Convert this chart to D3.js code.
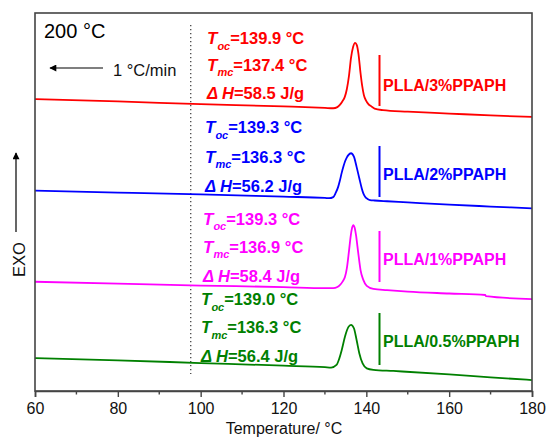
<!DOCTYPE html>
<html><head><meta charset="utf-8">
<script src="https://cdn.jsdelivr.net/npm/d3@7"></script>
<style>
html,body{margin:0;padding:0;background:#fff;}
svg{display:block;font-family:"Liberation Sans",Arial,sans-serif;}
</style></head>
<body><svg id="chart" width="546" height="437"></svg>
<script>
// ---- data ----
const sampleNames = ["PLLA/3%PPAPH", "PLLA/2%PPAPH", "PLLA/1%PPAPH", "PLLA/0.5%PPAPH"];
const tocValues = ["139.9", "139.3", "139.3", "139.0"];
const tmcValues = ["137.4", "136.3", "136.9", "136.3"];
const dhValues = ["58.5", "56.2", "58.4", "56.4"];
const xTicks = [60, 80, 100, 120, 140, 160, 180];

const tempRed  = [60,80,100,120,130,132,133,133.6,134.2,134.8,135.3,135.8,136.3,136.8,137.3,137.7,138.1,138.6,139.0,139.4,139.9,140.5,141.2,142,144,150,160,170,180];
const heatRed  = [7.72,7.66,7.59,7.53,7.49,7.48,7.51,7.57,7.66,7.78,7.99,8.33,8.81,9.10,9.21,9.15,8.92,8.41,8.07,7.83,7.69,7.59,7.53,7.47,7.43,7.39,7.34,7.29,7.25];

const tempBlue = [60,80,100,120,130,131,132,132.6,133.2,133.6,134.05,134.5,134.85,135.3,135.65,136.3,137.0,137.65,138.3,138.9,139.3,139.7,140.3,140.9,142,145,150,160,170,180];
const heatBlue = [5.30,5.25,5.20,5.14,5.11,5.10,5.13,5.24,5.40,5.56,5.77,5.95,6.07,6.18,6.24,6.29,6.20,5.93,5.63,5.36,5.22,5.14,5.08,5.05,5.04,5.02,4.99,4.93,4.88,4.83];

const tempMag  = [60,80,100,120,130,132,133,133.6,134.3,134.85,135.3,135.65,135.95,136.2,136.55,136.86,137.2,137.5,138.06,138.6,139.27,140.1,141.7,145,150,160,168.7,168.9,180];
const heatMag  = [2.89,2.84,2.79,2.75,2.72,2.72,2.75,2.80,2.90,3.02,3.25,3.55,3.84,4.08,4.31,4.39,4.31,4.13,3.64,3.20,2.94,2.78,2.70,2.67,2.63,2.58,2.54,2.51,2.43];

const tempGreen = [60,80,100,120,130,131.5,132.8,133.5,134.05,134.85,135.3,135.65,136.3,137.0,137.65,138.3,139.1,140.1,141.7,146.5,160,170,180];
const heatGreen = [0.87,0.81,0.74,0.67,0.63,0.62,0.69,0.87,1.08,1.44,1.60,1.69,1.75,1.66,1.35,1.00,0.73,0.60,0.56,0.53,0.44,0.36,0.29];

const seriesColors = ["#ff0000", "#0000ff", "#ff00ff", "#008000"];
const seriesTemps = [tempRed, tempBlue, tempMag, tempGreen];
const seriesHeats = [heatRed, heatBlue, heatMag, heatGreen];

// ---- layout ----
const svg = d3.select("#chart");
const L = 35, R = 532, T = 13, B = 391;
const x = d3.scaleLinear().domain([60, 180]).range([L, R]);
const y = d3.scaleLinear().domain([0, 10]).range([B, T]);
const font = '"Liberation Sans",Arial,sans-serif';

// defs arrow
const defs = svg.append("defs");
defs.append("marker").attr("id","arr").attr("viewBox","0 0 10 10").attr("refX",9).attr("refY",5)
  .attr("markerWidth",10).attr("markerHeight",7).attr("markerUnits","userSpaceOnUse").attr("orient","auto")
  .append("path").attr("d","M0,0 L10,5 L0,10 Z").attr("fill","#000");

// dotted vertical line
svg.append("line").attr("x1", x(97.6)).attr("x2", x(97.6)).attr("y1", 25).attr("y2", 374)
  .attr("stroke", "#444").attr("stroke-width", 1.3).attr("stroke-dasharray", "1.3,2.7");

// curves
const line = d3.line().x(d => x(d[0])).y(d => y(d[1])).curve(d3.curveMonotoneX);
seriesTemps.forEach((ts, i) => {
  const pts = ts.map((t, j) => [t, seriesHeats[i][j]]);
  svg.append("path").datum(pts).attr("d", line).attr("fill", "none")
    .attr("stroke", seriesColors[i]).attr("stroke-width", 1.8).attr("stroke-linejoin","round");
});

// frame
svg.append("rect").attr("x", L).attr("y", T).attr("width", R - L).attr("height", B - T)
  .attr("fill", "none").attr("stroke", "#444").attr("stroke-width", 1.6);

// x axis
const xAxis = d3.axisBottom(x).tickValues(xTicks).tickSize(6).tickPadding(6).tickFormat(d3.format("d"));
const gx = svg.append("g").attr("transform", `translate(0,${B})`).call(xAxis);
gx.select(".domain").attr("stroke", "#444").attr("stroke-width", 1.6);
gx.selectAll(".tick line").attr("stroke", "#444").attr("stroke-width", 1.4);
gx.selectAll(".tick text").attr("font-size", 16).attr("font-family", font).attr("fill", "#111");
const minor = d3.range(70, 180, 20);
svg.append("g").selectAll("line").data(minor).join("line")
  .attr("x1", d => x(d)).attr("x2", d => x(d)).attr("y1", B).attr("y2", B + 3.5)
  .attr("stroke", "#444").attr("stroke-width", 1.4);

svg.append("text").attr("x", 284).attr("y", 433.5).attr("text-anchor", "middle")
  .attr("font-size", 16).attr("fill", "#111").text("Temperature/ °C");

// EXO
svg.append("text").attr("transform", "translate(24.5,259.5) rotate(-90)").attr("text-anchor", "middle")
  .attr("font-size", 16.5).attr("fill", "#111").text("EXO");
svg.append("line").attr("x1", 16).attr("x2", 16).attr("y1", 232).attr("y2", 153)
  .attr("stroke", "#000").attr("stroke-width", 1.2).attr("marker-end", "url(#arr)");

// 200 °C & rate
svg.append("text").attr("x", 44).attr("y", 38).attr("font-size", 20).attr("fill", "#000").text("200 °C");
svg.append("line").attr("x1", 103).attr("x2", 50).attr("y1", 68).attr("y2", 68)
  .attr("stroke", "#000").attr("stroke-width", 1.2).attr("marker-end", "url(#arr)");
svg.append("text").attr("x", 113).attr("y", 75.5).attr("font-size", 16.5).attr("fill", "#111").text("1 °C/min");

// annotations
const textX = [207, 205, 203, 201];
const lineBase = [[44, 70.5, 98.5], [133, 162.5, 191.5], [224.5, 252.5, 281.5], [305, 333, 362]];
const sepLine = [[55, 106], [146, 197], [231, 282], [313, 365]];
const labelBase = [91, 180, 265, 346.5];

sampleNames.forEach((name, i) => {
  const c = seriesColors[i];
  const g = svg.append("g").attr("fill", c).attr("font-weight", "bold").attr("font-size", 16.5);
  const sub = (yy, s, val) => {
    const t = g.append("text").attr("x", textX[i]).attr("y", yy);
    t.append("tspan").attr("font-style", "italic").attr("font-size", 17).text("T");
    t.append("tspan").attr("font-style", "italic").attr("font-size", 11).attr("dy", 5.5).text(s);
    t.append("tspan").attr("dy", -5.5).text("=" + val + " °C");
  };
  sub(lineBase[i][0], "oc", tocValues[i]);
  sub(lineBase[i][1], "mc", tmcValues[i]);
  const t3 = g.append("text").attr("x", textX[i]).attr("y", lineBase[i][2]);
  t3.append("tspan").attr("font-style", "italic").text("Δ H");
  t3.append("tspan").text("=" + dhValues[i] + " J/g");

  svg.append("line").attr("x1", 379.5).attr("x2", 379.5).attr("y1", sepLine[i][0]).attr("y2", sepLine[i][1])
    .attr("stroke", c).attr("stroke-width", 2);
  svg.append("text").attr("x", 383).attr("y", labelBase[i]).attr("fill", c).attr("font-weight", "bold")
    .attr("font-size", 16).text(name);
});
</script></body></html>
